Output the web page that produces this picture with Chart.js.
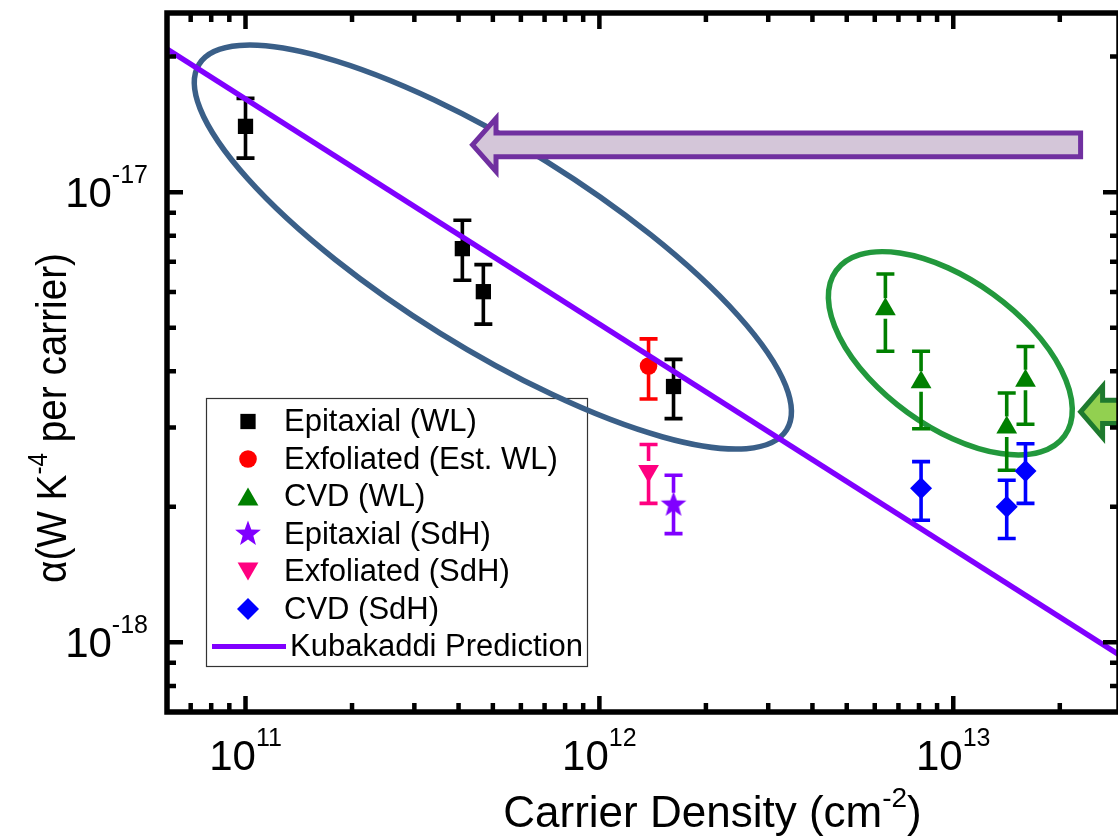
<!DOCTYPE html>
<html>
<head>
<meta charset="utf-8">
<script src="https://cdn.jsdelivr.net/npm/chart.js@4.4.1/dist/chart.umd.min.js"></script>
<style>
  html, body { margin: 0; padding: 0; background: #ffffff; overflow: hidden; width: 1118px; height: 838px; }
  canvas { display: block; }
</style>
</head>
<body>
<canvas id="c" width="1132" height="838"></canvas>
<script>
// ---- Data: carrier density (cm^-2) vs. alpha (W K^-4 per carrier), with error limits ----
const epiWL_x  = [1.00e11, 4.10e11, 4.70e11, 1.62e12];
const epiWL_y  = [1.40e-17, 7.49e-18, 6.01e-18, 3.70e-18];
const epiWL_lo = [1.19e-17, 6.37e-18, 5.09e-18, 3.14e-18];
const epiWL_hi = [1.615e-17, 8.66e-18, 6.90e-18, 4.25e-18];

const exfWL_x  = [1.377e12];
const exfWL_y  = [4.11e-18];
const exfWL_lo = [3.47e-18];
const exfWL_hi = [4.72e-18];

const cvdWL_x  = [6.43e12, 8.11e12, 1.416e13, 1.60e13];
const cvdWL_y  = [5.49e-18, 3.78e-18, 3.00e-18, 3.81e-18];
const cvdWL_lo = [4.43e-18, 2.98e-18, 2.41e-18, 3.05e-18];
const cvdWL_hi = [6.58e-18, 4.43e-18, 3.58e-18, 4.54e-18];

const epiSdH_x  = [1.62e12];
const epiSdH_y  = [2.02e-18];
const epiSdH_lo = [1.743e-18];
const epiSdH_hi = [2.35e-18];

const exfSdH_x  = [1.377e12];
const exfSdH_y  = [2.40e-18];
const exfSdH_lo = [2.035e-18];
const exfSdH_hi = [2.75e-18];

const cvdSdH_x  = [8.11e12, 1.416e13, 1.60e13];
const cvdSdH_y  = [2.20e-18, 2.00e-18, 2.40e-18];
const cvdSdH_lo = [1.866e-18, 1.70e-18, 2.035e-18];
const cvdSdH_hi = [2.52e-18, 2.29e-18, 2.76e-18];

// Kubakaddi prediction (straight line on log-log axes)
const kubX = [6.0e10, 2.94e13];
const kubY = [2.08e-17, 9.38e-19];

// Axis ranges and labelled decades
const X_MIN = 6.0e10, X_MAX = 2.94e13;
const Y_MIN = 7.0e-19, Y_MAX = 2.5e-17;
const xMajorValues = [1e11, 1e12, 1e13];
const xMajorExp = ['11', '12', '13'];
const yMajorValues = [1e-18, 1e-17];
const yMajorExp = ['-18', '-17'];

const legendLabels = ['Epitaxial (WL)', 'Exfoliated (Est. WL)', 'CVD (WL)', 'Epitaxial (SdH)',
                      'Exfoliated (SdH)', 'CVD (SdH)', 'Kubakaddi Prediction'];

// ---- Annotation shapes (anchored in data space, sizes in pixels) ----
const ellipses = [
  { cx: 5.00e11, cy: 7.55e-18, rx: 346, ry: 101, angle: 31.9, color: '#3a5f88', width: 5.5 },
  { cx: 9.81e12, cy: 4.385e-18, rx: 141, ry: 73, angle: 35.9, color: '#22983c', width: 5.5 }
];
const arrows = [
  { tipX: 4.38e11, tipY: 1.274e-17, tailX: 2.29e13, headLen: 23.5, headHalf: 26.5, shaftHalf: 11.9,
    fill: '#d4c6d9', stroke: '#7030a0', width: 5 },
  { tipX: 2.29e13, tipY: 3.25e-18, tailX: 1.0e14, headLen: 22, headHalf: 25.5, shaftHalf: 11.6,
    fill: '#92d050', stroke: '#1e7a2e', width: 5 }
];

const FONT = '"Liberation Sans", Arial, Helvetica, sans-serif';

function pts(xs, ys) { return xs.map((x, i) => ({ x: x, y: ys[i] })); }

// filled five-pointed star used as a point style
const starImg = (function () {
  const c = document.createElement('canvas');
  c.width = 30; c.height = 30;
  const g = c.getContext('2d');
  g.beginPath();
  for (let i = 0; i < 10; i++) {
    const r = i % 2 ? 5.6 : 13.5;
    const a = -Math.PI / 2 + i * Math.PI / 5;
    const px = 15 + r * Math.cos(a), py = 15 + r * Math.sin(a);
    if (i) g.lineTo(px, py); else g.moveTo(px, py);
  }
  g.closePath();
  g.fillStyle = '#8000ff';
  g.fill();
  return c;
})();

function scatterSet(label, xs, ys, lo, hi, color, style, radius, rotation, gapUp, gapDown) {
  return {
    label: label, type: 'scatter', data: pts(xs, ys),
    backgroundColor: color, borderColor: color,
    pointStyle: style, pointRadius: radius, pointHoverRadius: radius,
    pointRotation: rotation, pointBorderWidth: 0,
    errLow: lo, errHigh: hi, gapUp: gapUp, gapDown: gapDown
  };
}

const datasets = [
  {
    label: 'Kubakaddi Prediction', type: 'line', data: pts(kubX, kubY),
    borderColor: '#8000ff', backgroundColor: '#8000ff', borderWidth: 5.5,
    pointRadius: 0, pointHoverRadius: 0, fill: false, tension: 0
  },
  scatterSet('Epitaxial (WL)', epiWL_x, epiWL_y, epiWL_lo, epiWL_hi, '#000000', 'rect', 10.8, 0, 0, 0),
  scatterSet('Exfoliated (Est. WL)', exfWL_x, exfWL_y, exfWL_lo, exfWL_hi, '#ff0000', 'circle', 8.8, 0, 0, 0),
  scatterSet('CVD (WL)', cvdWL_x, cvdWL_y, cvdWL_lo, cvdWL_hi, '#008000', 'triangle', 12, 0, 11, 9.5),
  scatterSet('Epitaxial (SdH)', epiSdH_x, epiSdH_y, epiSdH_lo, epiSdH_hi, '#8000ff', starImg, 13, 0, 12, 0),
  scatterSet('Exfoliated (SdH)', exfSdH_x, exfSdH_y, exfSdH_lo, exfSdH_hi, '#ff0080', 'triangle', 12, 180, 10, 0),
  scatterSet('CVD (SdH)', cvdSdH_x, cvdSdH_y, cvdSdH_lo, cvdSdH_hi, '#0000ff', 'rectRot', 11, 0, 0, 0)
];

// draws text made of normal and superscript runs
function richWidth(ctx, parts, base, sup) {
  let w = 0;
  parts.forEach(p => { ctx.font = p.sup ? sup : base; w += ctx.measureText(p.t).width; });
  return w;
}
function drawRich(ctx, parts, x, y, align, base, sup, rise) {
  const w = richWidth(ctx, parts, base, sup);
  let cx = align === 'center' ? x - w / 2 : align === 'right' ? x - w : x;
  ctx.textAlign = 'left';
  ctx.textBaseline = 'alphabetic';
  parts.forEach(p => {
    ctx.font = p.sup ? sup : base;
    ctx.fillText(p.t, cx, p.sup ? y - rise : y);
    cx += ctx.measureText(p.t).width;
  });
}

function marker(ctx, style, rotation, radius, x, y, color) {
  ctx.save();
  ctx.fillStyle = color;
  ctx.strokeStyle = color;
  Chart.helpers.drawPoint(ctx, { pointStyle: style, rotation: rotation, radius: radius, borderWidth: 0 }, x, y);
  ctx.restore();
}

const decorations = {
  id: 'decorations',
  beforeDatasetsDraw(chart) {
    const ctx = chart.ctx;
    const xs = chart.scales.x, ys = chart.scales.y;

    // legend box
    const lx = 206, ly = 398, lw = 381, lh = 268;
    ctx.save();
    ctx.lineWidth = 1.2;
    ctx.strokeStyle = '#333333';
    ctx.strokeRect(lx + 0.5, ly + 0.5, lw, lh);
    ctx.fillStyle = '#000000';
    ctx.font = '31px ' + FONT;
    ctx.textBaseline = 'middle';
    ctx.textAlign = 'left';
    const order = [1, 2, 3, 4, 5, 6, 0];
    order.forEach((di, row) => {
      const ds = chart.data.datasets[di];
      const ry = 421.5 + row * 37.5;
      if (ds.type === 'line') {
        ctx.strokeStyle = ds.borderColor;
        ctx.lineWidth = 5;
        ctx.beginPath(); ctx.moveTo(212, ry); ctx.lineTo(286, ry); ctx.stroke();
        ctx.fillStyle = '#000000';
        ctx.fillText(legendLabels[row], 290, ry + 1);
      } else {
        marker(ctx, ds.pointStyle, ds.pointRotation, ds.pointRadius, 248, ry + (ds.pointStyle === 'triangle' ? (ds.pointRotation ? -3 : 3) : 0), ds.backgroundColor);
        ctx.fillStyle = '#000000';
        ctx.fillText(legendLabels[row], 284, ry + 1);
      }
    });
    ctx.restore();

    // ellipses
    ctx.save();
    ellipses.forEach(e => {
      ctx.beginPath();
      ctx.ellipse(xs.getPixelForValue(e.cx), ys.getPixelForValue(e.cy), e.rx, e.ry, e.angle * Math.PI / 180, 0, Math.PI * 2);
      ctx.lineWidth = e.width;
      ctx.strokeStyle = e.color;
      ctx.stroke();
    });
    ctx.restore();

    // error bars
    ctx.save();
    ctx.lineWidth = 3.6;
    ctx.lineCap = 'butt';
    chart.data.datasets.forEach((ds, i) => {
      if (!ds.errLow) return;
      const meta = chart.getDatasetMeta(i);
      ctx.strokeStyle = ds.borderColor;
      meta.data.forEach((pt, j) => {
        const x = pt.x, y = pt.y;
        const yt = ys.getPixelForValue(ds.errHigh[j]);
        const yb = ys.getPixelForValue(ds.errLow[j]);
        ctx.beginPath();
        ctx.moveTo(x, yt); ctx.lineTo(x, y - ds.gapUp);
        ctx.moveTo(x, y + ds.gapDown); ctx.lineTo(x, yb);
        ctx.moveTo(x - 9, yt); ctx.lineTo(x + 9, yt);
        ctx.moveTo(x - 9, yb); ctx.lineTo(x + 9, yb);
        ctx.stroke();
      });
    });
    ctx.restore();
  },
  afterDatasetsDraw(chart) {
    const ctx = chart.ctx;
    const a = chart.chartArea;
    const xs = chart.scales.x, ys = chart.scales.y;

    // arrows
    ctx.save();
    arrows.forEach(ar => {
      const tx = xs.getPixelForValue(ar.tipX), ty = ys.getPixelForValue(ar.tipY);
      const ax = xs.getPixelForValue(ar.tailX);
      ctx.beginPath();
      ctx.moveTo(tx, ty);
      ctx.lineTo(tx + ar.headLen, ty - ar.headHalf);
      ctx.lineTo(tx + ar.headLen, ty - ar.shaftHalf);
      ctx.lineTo(ax, ty - ar.shaftHalf);
      ctx.lineTo(ax, ty + ar.shaftHalf);
      ctx.lineTo(tx + ar.headLen, ty + ar.shaftHalf);
      ctx.lineTo(tx + ar.headLen, ty + ar.headHalf);
      ctx.closePath();
      ctx.fillStyle = ar.fill;
      ctx.fill();
      ctx.lineJoin = 'miter';
      ctx.lineWidth = ar.width;
      ctx.strokeStyle = ar.stroke;
      ctx.stroke();
    });
    ctx.restore();

    // frame and inward ticks on all four sides
    ctx.save();
    ctx.strokeStyle = '#000000';
    ctx.lineWidth = 5.5;
    ctx.strokeRect(a.left, a.top, a.right - a.left, a.bottom - a.top);
    ctx.lineWidth = 4.5;
    ctx.beginPath();
    for (let e = 10; e <= 13; e++) {
      for (let m = 1; m <= 9; m++) {
        const v = m * Math.pow(10, e);
        if (v <= X_MIN * 1.001 || v >= X_MAX) continue;
        const px = xs.getPixelForValue(v);
        const len = m === 1 ? 16 : 9;
        ctx.moveTo(px, a.bottom); ctx.lineTo(px, a.bottom - len);
        ctx.moveTo(px, a.top); ctx.lineTo(px, a.top + len);
      }
    }
    for (let e = -19; e <= -17; e++) {
      for (let m = 1; m <= 9; m++) {
        const v = m * Math.pow(10, e);
        if (v <= Y_MIN * 1.001 || v >= Y_MAX) continue;
        const py = ys.getPixelForValue(v);
        const len = m === 1 ? 16 : 9;
        ctx.moveTo(a.left, py); ctx.lineTo(a.left + len, py);
        ctx.moveTo(a.right, py); ctx.lineTo(a.right - len, py);
      }
    }
    ctx.stroke();
    ctx.restore();

    // tick labels
    ctx.save();
    ctx.fillStyle = '#000000';
    const baseF = '42px ' + FONT, supF = '25px ' + FONT;
    xMajorValues.forEach((v, i) => {
      drawRich(ctx, [{ t: '10' }, { t: xMajorExp[i], sup: true }], xs.getPixelForValue(v), 770, 'center', baseF, supF, 24);
    });
    yMajorValues.forEach((v, i) => {
      const py = ys.getPixelForValue(v);
      drawRich(ctx, [{ t: '10' }, { t: yMajorExp[i], sup: true }], 148, py + 15, 'right', baseF, supF, 24);
    });

    // axis titles
    drawRich(ctx, [{ t: 'Carrier Density (cm' }, { t: '-2', sup: true }, { t: ')' }],
      (a.left + 1118) / 2 + 70, 827, 'center', '44px ' + FONT, '28px ' + FONT, 20);
    ctx.translate(66, 418);
    ctx.rotate(-Math.PI / 2);
    ctx.scale(0.9, 1);
    drawRich(ctx, [{ t: '\u03b1(W K' }, { t: '-4', sup: true }, { t: ' per carrier)' }],
      0, 0, 'center', '43px ' + FONT, '27px ' + FONT, 19);
    ctx.restore();
  }
};

new Chart(document.getElementById('c'), {
  data: { datasets: datasets },
  options: {
    responsive: false,
    animation: false,
    events: [],
    layout: { padding: { left: 167, top: 10, right: 10, bottom: 126 } },
    plugins: { legend: { display: false }, tooltip: { enabled: false } },
    scales: {
      x: { type: 'logarithmic', min: X_MIN, max: X_MAX, display: false },
      y: { type: 'logarithmic', min: Y_MIN, max: Y_MAX, display: false }
    }
  },
  plugins: [decorations]
});
</script>
</body>
</html>
